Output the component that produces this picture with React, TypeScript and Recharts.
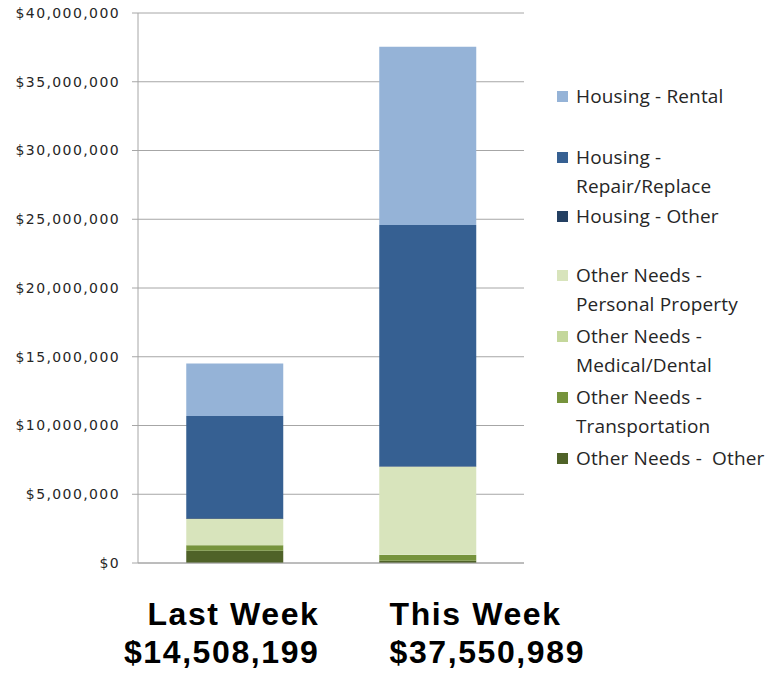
import React from 'react';
import { BarChart, Bar, XAxis, YAxis, CartesianGrid } from 'recharts';

const categories = ['Last Week', 'This Week'];
const totalLabels = ['$14,508,199', '$37,550,989'];

const otherNeedsOther = [890000, 170000];
const transportation = [400000, 410000];
const medicalDental = [20000, 20000];
const personalProperty = [1890000, 6400000];
const housingOther = [50000, 30000];
const repairReplace = [7440000, 17550000];
const rental = [3820000, 12970000];

const yTicks = [0, 5000000, 10000000, 15000000, 20000000, 25000000, 30000000, 35000000, 40000000];

// stacking order, bottom to top
const series = [
  { key: 'otherNeedsOther', name: 'Other Needs -  Other', lines: ['Other Needs -  Other'], color: '#4f6228', values: otherNeedsOther },
  { key: 'transportation', name: 'Other Needs - Transportation', lines: ['Other Needs -', 'Transportation'], color: '#76933c', values: transportation },
  { key: 'medicalDental', name: 'Other Needs - Medical/Dental', lines: ['Other Needs -', 'Medical/Dental'], color: '#c4d79b', values: medicalDental },
  { key: 'personalProperty', name: 'Other Needs - Personal Property', lines: ['Other Needs -', 'Personal Property'], color: '#d8e4bc', values: personalProperty },
  { key: 'housingOther', name: 'Housing - Other', lines: ['Housing - Other'], color: '#244062', values: housingOther },
  { key: 'repairReplace', name: 'Housing - Repair/Replace', lines: ['Housing -', 'Repair/Replace'], color: '#366092', values: repairReplace },
  { key: 'rental', name: 'Housing - Rental', lines: ['Housing - Rental'], color: '#95b3d7', values: rental },
];

const data = categories.map((name, i) => {
  const row: Record<string, any> = { name, total: totalLabels[i] };
  series.forEach((s) => { row[s.key] = s.values[i]; });
  return row;
});

const money = (v: number) => '$' + v.toLocaleString('en-US');

// the first label block hangs right of its bar centre, the second starts left of it
const WeekTick = (props: any) => {
  const { x, y, index } = props;
  const first = index === 0;
  const tx = first ? x + 85 : x - 38;
  const anchor = first ? 'end' : 'start';
  const font = { fontFamily: 'Liberation Sans, Arial, sans-serif', fontWeight: 'bold' as const, fontSize: 32, letterSpacing: 1.6, fill: '#000' };
  return (
    <g>
      <text x={tx} y={y + 62} textAnchor={anchor} {...font}>{categories[index]}</text>
      <text x={tx} y={y + 100} textAnchor={anchor} {...font}>{totalLabels[index]}</text>
    </g>
  );
};

// gap above each legend entry (top to bottom)
const legendGaps = [0, 32, 1, 30, 3, 3, 3];

export default function App() {
  const legendItems = [...series].reverse();
  return (
    <div style={{ position: 'absolute', left: 0, top: 0, width: 769, height: 681, background: '#fff' }}>
      <BarChart
        width={769}
        height={681}
        data={data}
        margin={{ top: 13, right: 245, left: 0, bottom: 0 }}
        barCategoryGap="25%"
      >
        <CartesianGrid vertical={false} stroke="#a6a6a6" />
        <XAxis
          dataKey="name"
          height={118}
          tickLine={false}
          tickSize={0}
          tickMargin={0}
          axisLine={{ stroke: '#a6a6a6' }}
          tick={<WeekTick />}
          interval={0}
        />
        <YAxis
          width={138}
          domain={[0, 40000000]}
          ticks={yTicks}
          interval={0}
          tickFormatter={money}
          tickSize={6}
          tickMargin={12}
          axisLine={{ stroke: '#a6a6a6' }}
          tickLine={{ stroke: '#a6a6a6' }}
          tick={{ fill: '#262626', fontSize: 14, fontFamily: 'DejaVu Sans, Verdana, sans-serif', letterSpacing: 1.4 }}
        />
        {series.map((s) => (
          <Bar key={s.key} dataKey={s.key} name={s.name} stackId="a" fill={s.color} isAnimationActive={false} />
        ))}
      </BarChart>
      <div style={{ position: 'absolute', left: 557, top: 82, fontFamily: 'Open Sans, sans-serif', fontSize: 19, letterSpacing: 0.15, lineHeight: '29px', color: '#262626' }}>
        {legendItems.map((s, i) => (
          <div key={s.key} style={{ display: 'flex', alignItems: 'flex-start', marginTop: legendGaps[i] }}>
            <span style={{ display: 'inline-block', width: 11, height: 11, background: s.color, marginTop: 9, marginRight: 8, flex: 'none' }} />
            <div>
              {s.lines.map((l) => (
                <div key={l} style={{ whiteSpace: 'pre' }}>{l}</div>
              ))}
            </div>
          </div>
        ))}
      </div>
    </div>
  );
}
